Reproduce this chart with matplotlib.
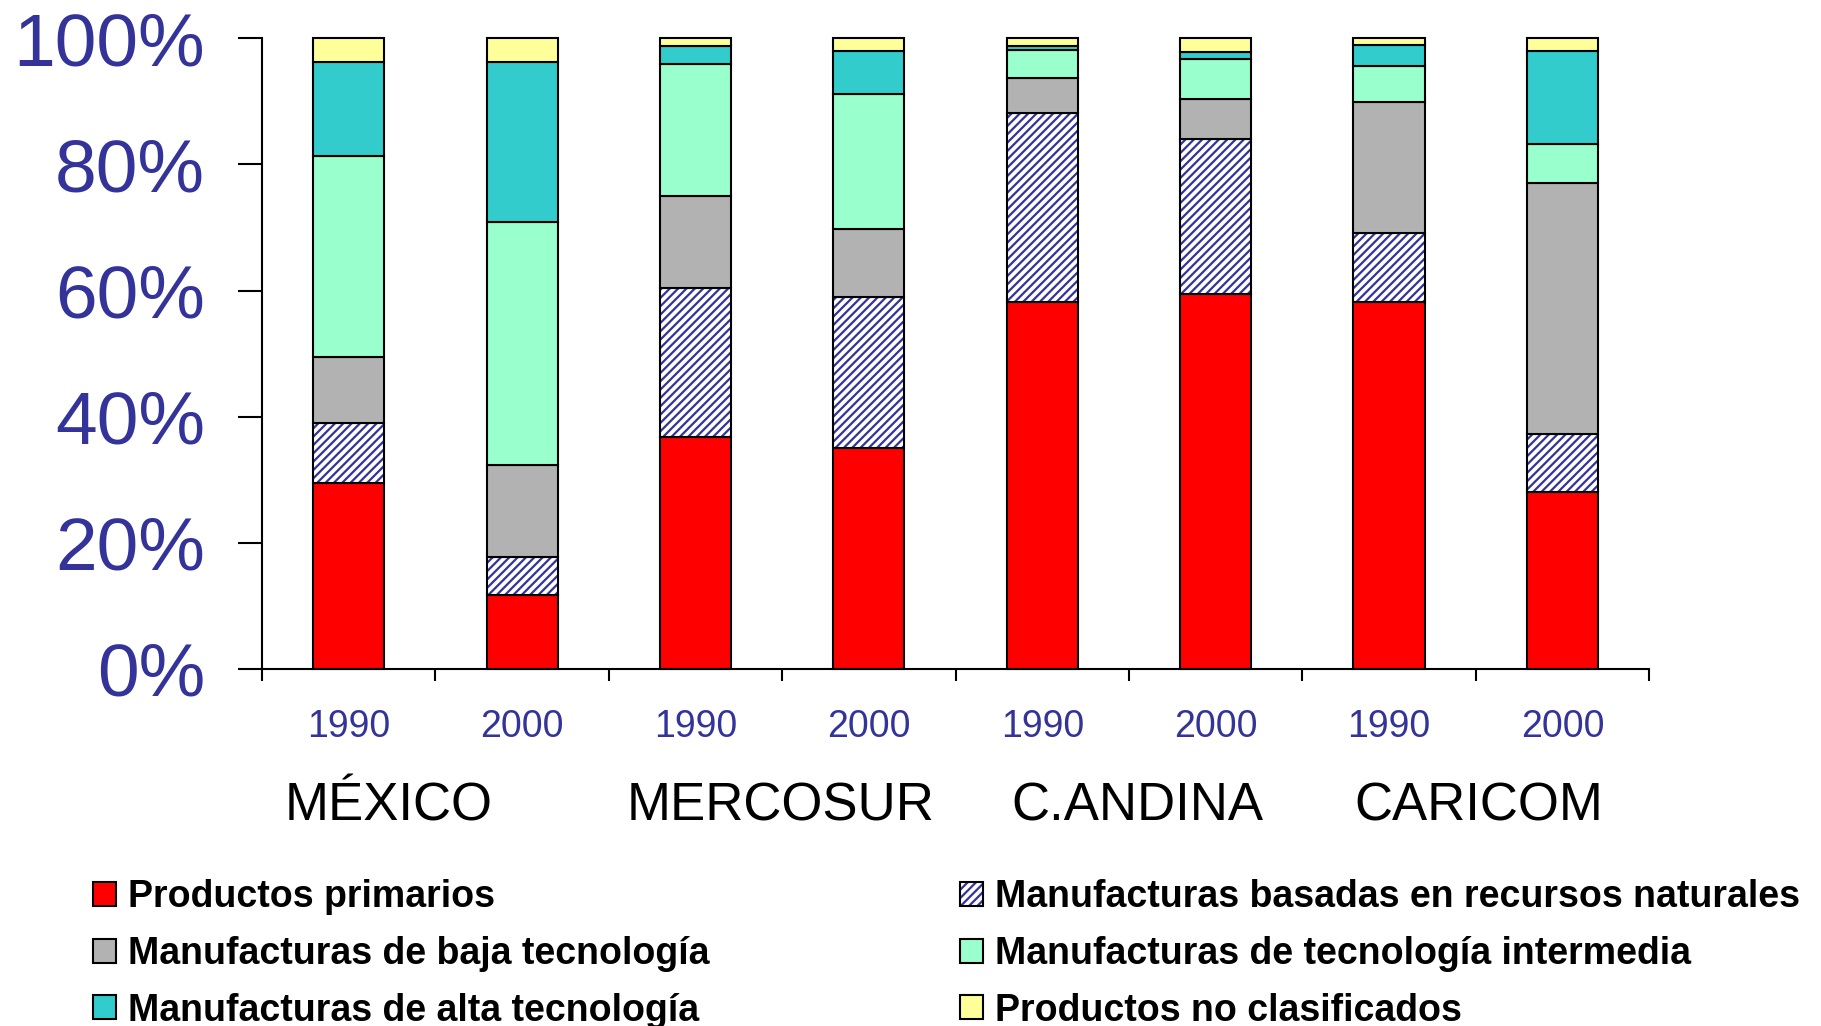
import numpy as np
import matplotlib
matplotlib.use("Agg")
import matplotlib.pyplot as plt
from matplotlib.patches import Patch

plt.rcParams['font.family'] = ['Liberation Sans', 'DejaVu Sans']
plt.rcParams['hatch.linewidth'] = 1.6

# datos (% de exportaciones)
anios = ['1990', '2000'] * 4
grupos = ['MÉXICO', 'MERCOSUR', 'C.ANDINA', 'CARICOM']
grupos_x = [0.23, 2.49, 4.55, 6.52]

primarios = [29.5, 11.8, 36.8, 35.0, 58.2, 59.5, 58.2, 28.0]
recursos = [9.5, 5.9, 23.6, 23.9, 30.0, 24.5, 10.9, 9.2]
baja = [10.5, 14.7, 14.6, 10.9, 5.5, 6.3, 20.8, 39.8]
intermedia = [31.9, 38.5, 20.9, 21.4, 4.4, 6.4, 5.7, 6.2]
alta = [14.9, 25.4, 2.8, 6.8, 0.6, 1.2, 3.3, 14.8]
no_clasif = [3.7, 3.7, 1.3, 2.0, 1.3, 2.1, 1.1, 2.0]

nombres = ['Productos primarios',
           'Manufacturas basadas en recursos naturales',
           'Manufacturas de baja tecnología',
           'Manufacturas de tecnología intermedia',
           'Manufacturas de alta tecnología',
           'Productos no clasificados']
colores = ['#FF0000', 'white', '#B2B2B2', '#99FFCC', '#33CCCC', '#FFFF99']
azul = '#333399'

series = np.array([primarios, recursos, baja, intermedia, alta, no_clasif], dtype=float)
series = series / series.sum(axis=0)

fig = plt.figure(figsize=(18.21, 10.26), dpi=100)
ax = fig.add_axes([0.1439, 0.348, 0.7617, 0.6147])

x = np.arange(len(anios))
ancho = 0.41
base = np.zeros(len(anios))
for i, vals in enumerate(series):
    if i == 1:
        # rayado azul y luego el borde negro encima
        ax.bar(x, vals, ancho, bottom=base, color='white', edgecolor=azul,
               hatch='////', linewidth=0, clip_on=False)
        ax.bar(x, vals, ancho, bottom=base, color='none', edgecolor='black',
               linewidth=1.5, clip_on=False)
    else:
        ax.bar(x, vals, ancho, bottom=base, color=colores[i], edgecolor='black',
               linewidth=1.5, clip_on=False)
    base += vals

ax.set_xlim(-0.5, 7.5)
ax.set_ylim(0, 1)
ax.set_yticks(np.arange(0, 1.01, 0.2))
ax.set_yticklabels(['0%', '20%', '40%', '60%', '80%', '100%'])
ax.tick_params(axis='y', length=17, width=1.5, labelsize=54, labelcolor=azul, pad=24)

ax.set_xticks(x)
ax.set_xticklabels(anios)
ax.set_xticks(np.arange(-0.5, 8, 1), minor=True)
ax.tick_params(axis='x', which='major', length=0, pad=29, labelsize=27, labelcolor=azul)
ax.tick_params(axis='x', which='minor', length=8.6, width=1.5)

for s in ['top', 'right']:
    ax.spines[s].set_visible(False)
for s in ['left', 'bottom']:
    ax.spines[s].set_linewidth(1.5)

for gx, g in zip(grupos_x, grupos):
    ax.text(gx, -0.2185, g, transform=ax.get_xaxis_transform(), ha='center',
            va='center', fontsize=38, color='black')

# leyenda: columna izquierda y derecha
orden = [0, 2, 4, 1, 3, 5]
handles = []
for i in orden:
    if i == 1:
        handles.append((Patch(facecolor='white', edgecolor=azul, hatch='////', linewidth=0),
                        Patch(facecolor='none', edgecolor='black', linewidth=1.5)))
    else:
        handles.append(Patch(facecolor=colores[i], edgecolor='black', linewidth=1.5))
labels = [nombres[i] for i in orden]
fig.legend(handles, labels, loc='upper left', bbox_to_anchor=(0.051, 0.143),
           ncol=2, frameon=False, borderaxespad=0, borderpad=0,
           prop={'size': 27, 'weight': 'bold'}, handlelength=0.62,
           handleheight=0.62, handletextpad=0.32, columnspacing=6.67,
           labelspacing=0.55)

fig.savefig('out.png', dpi=100)
